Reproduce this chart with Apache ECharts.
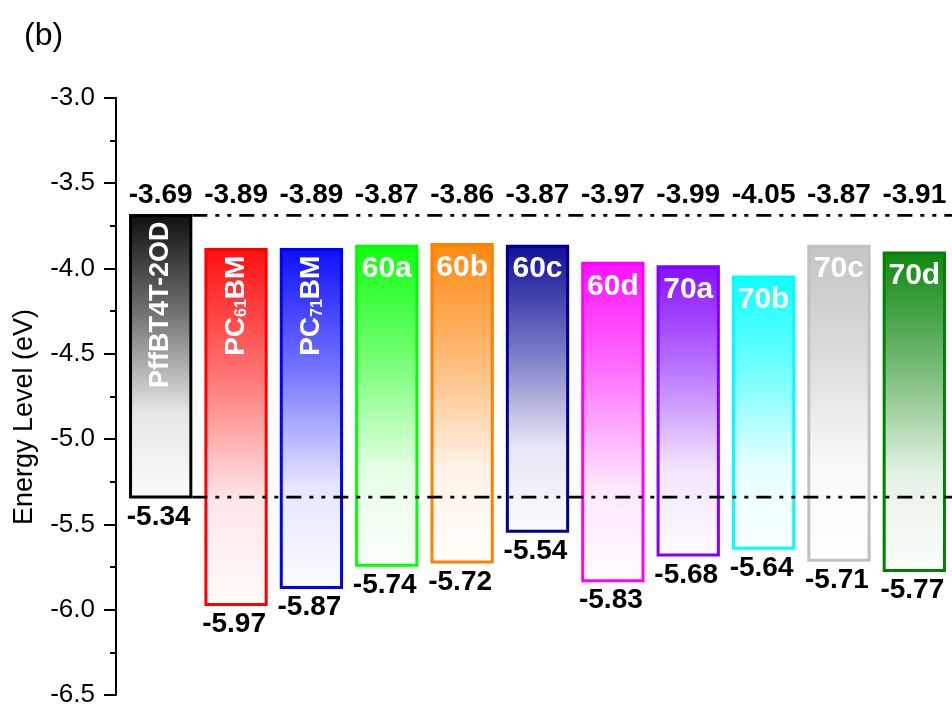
<!DOCTYPE html>
<html>
<head>
<meta charset="utf-8">
<script src="https://cdn.jsdelivr.net/npm/echarts@6/dist/echarts.min.js"></script>
<style>
  html, body { margin: 0; padding: 0; background: #ffffff; }
  #chart { width: 952px; height: 708px; }
</style>
</head>
<body>
<div id="chart"></div>
<script>
// Donor polymer and fullerene acceptors
const materials = ['PffBT4T-2OD', 'PC61BM', 'PC71BM', '60a', '60b', '60c', '60d', '70a', '70b', '70c', '70d'];
// LUMO levels (eV)
const lumo = [-3.69, -3.89, -3.89, -3.87, -3.86, -3.87, -3.97, -3.99, -4.05, -3.87, -3.91];
// HOMO levels (eV)
const homo = [-5.34, -5.97, -5.87, -5.74, -5.72, -5.54, -5.83, -5.68, -5.64, -5.71, -5.77];
// Bar colours
const barColors = ['#000000', '#ff0000', '#0000ff', '#00ff00', '#ff8000', '#000090',
                   '#ff00ff', '#8000ff', '#00ffff', '#c0c0c0', '#008000'];
// Energy axis ticks (eV)
const energyTicks = [-6.5, -6.0, -5.5, -5.0, -4.5, -4.0, -3.5, -3.0];

const FONT = "'Liberation Sans', Arial, Helvetica, sans-serif";

// blend a hex colour toward white (t = 0 keeps colour, t = 1 is white)
function tint(hex, t) {
  const n = parseInt(hex.slice(1), 16);
  const r = (n >> 16) & 255, g = (n >> 8) & 255, b = n & 255;
  const m = c => Math.round(c + (255 - c) * t);
  return 'rgb(' + m(r) + ',' + m(g) + ',' + m(b) + ')';
}

function fadeFill(c) {
  return new echarts.graphic.LinearGradient(0, 0, 0, 1, [
    { offset: 0, color: tint(c, 0.06) },
    { offset: 0.35, color: tint(c, 0.45) },
    { offset: 0.7, color: tint(c, 0.9) },
    { offset: 1, color: tint(c, 0.985) }
  ]);
}

// "PC61BM" -> PC with subscript 61, then BM
function richName(name) {
  const m = /^PC(\d+)BM$/.exec(name);
  return m ? '{m|PC}{s|' + m[1] + '}{m|BM}' : name;
}

const BAR_RATIO = 0.8;

function renderBar(params, api) {
  const i = params.dataIndex;
  const idx = api.value(0);
  const top = api.coord([idx, api.value(1)]);
  const bottom = api.coord([idx, api.value(2)]);
  const w = api.size([1, 0])[0] * BAR_RATIO;
  const c = barColors[i];
  const name = materials[i];
  // LUMO values share one row above the donor LUMO level
  const labelRow = api.coord([0, lumo[0]])[1] - 20;

  const children = [
    {
      type: 'rect',
      shape: { x: top[0] - w / 2, y: top[1], width: w, height: bottom[1] - top[1] },
      style: { fill: fadeFill(c), stroke: c, lineWidth: 3 }
    },
    {
      type: 'text', x: top[0], y: labelRow,
      style: { text: lumo[i].toFixed(2), fill: '#000', fontFamily: FONT, fontSize: 28,
               fontWeight: 'bold', align: 'center', verticalAlign: 'middle' }
    },
    {
      type: 'text', x: bottom[0] - 2, y: bottom[1] + 20,
      style: { text: homo[i].toFixed(2), fill: '#000', fontFamily: FONT, fontSize: 28,
               fontWeight: 'bold', align: 'center', verticalAlign: 'middle' }
    }
  ];

  if (name.length > 3) {
    children.push({
      type: 'text', x: top[0], y: top[1] + 6, rotation: Math.PI / 2,
      style: {
        text: richName(name), fill: '#fff', fontFamily: FONT, fontSize: 27, fontWeight: 'bold',
        align: 'right', verticalAlign: 'middle',
        rich: {
          m: { fill: '#fff', fontFamily: FONT, fontSize: 28, fontWeight: 'bold', lineHeight: 28 },
          s: { fill: '#fff', fontFamily: FONT, fontSize: 16, fontWeight: 'bold', lineHeight: 2, verticalAlign: 'bottom' }
        }
      }
    });
  } else {
    children.push({
      type: 'text', x: top[0], y: top[1] + 23,
      style: { text: name, fill: '#fff', fontFamily: FONT, fontSize: 30, fontWeight: 'bold',
               align: 'center', verticalAlign: 'middle' }
    });
  }
  return { type: 'group', children: children };
}

// dash-dot-dot guide lines at the donor LUMO and HOMO
function renderLevel(params, api) {
  const p = api.coord([api.value(0), api.value(1)]);
  const w = api.size([1, 0])[0] * BAR_RATIO;
  const cs = params.coordSys;
  return {
    type: 'line',
    shape: { x1: p[0] + w / 2 + 1.5, y1: p[1], x2: cs.x + cs.width, y2: p[1] },
    style: { stroke: '#000', lineWidth: 2.8, lineDash: [15, 8, 4, 8, 4, 8] }
  };
}

const chart = echarts.init(document.getElementById('chart'), null, { renderer: 'canvas' });

chart.setOption({
  animation: false,
  backgroundColor: '#ffffff',
  grid: { left: 123, top: 97.7, width: 833.25, height: 600 },
  xAxis: {
    type: 'category',
    data: materials,
    show: false
  },
  yAxis: {
    type: 'value',
    min: energyTicks[0],
    max: energyTicks[energyTicks.length - 1],
    interval: energyTicks[1] - energyTicks[0],
    offset: 7,
    axisLine: { show: true, lineStyle: { color: '#000', width: 2 } },
    axisTick: { show: true, inside: false, length: 12, lineStyle: { color: '#000', width: 2 } },
    minorTick: { show: true, splitNumber: 2, length: 6, lineStyle: { color: '#000', width: 2 } },
    splitLine: { show: false },
    axisLabel: {
      margin: 21, color: '#000', fontFamily: FONT, fontSize: 26,
      formatter: v => v.toFixed(1)
    }
  },
  graphic: [
    {
      type: 'text', x: 24, y: 20,
      style: { text: '(b)', fill: '#000', fontFamily: FONT, fontSize: 32, align: 'left', verticalAlign: 'top' }
    },
    {
      type: 'text', x: 25, y: 417, rotation: Math.PI / 2,
      style: { text: 'Energy Level (eV)', fill: '#000', fontFamily: FONT, fontSize: 27,
               align: 'center', verticalAlign: 'middle' }
    }
  ],
  series: [
    {
      type: 'custom',
      name: 'levels',
      z: 2,
      clip: false,
      renderItem: renderBar,
      encode: { x: 0, y: [1, 2] },
      data: materials.map((m, i) => [i, lumo[i], homo[i]])
    },
    {
      type: 'custom',
      name: 'donor',
      z: 3,
      renderItem: renderLevel,
      encode: { x: 0, y: 1 },
      data: [[0, lumo[0]], [0, homo[0]]]
    }
  ]
});
</script>
</body>
</html>
